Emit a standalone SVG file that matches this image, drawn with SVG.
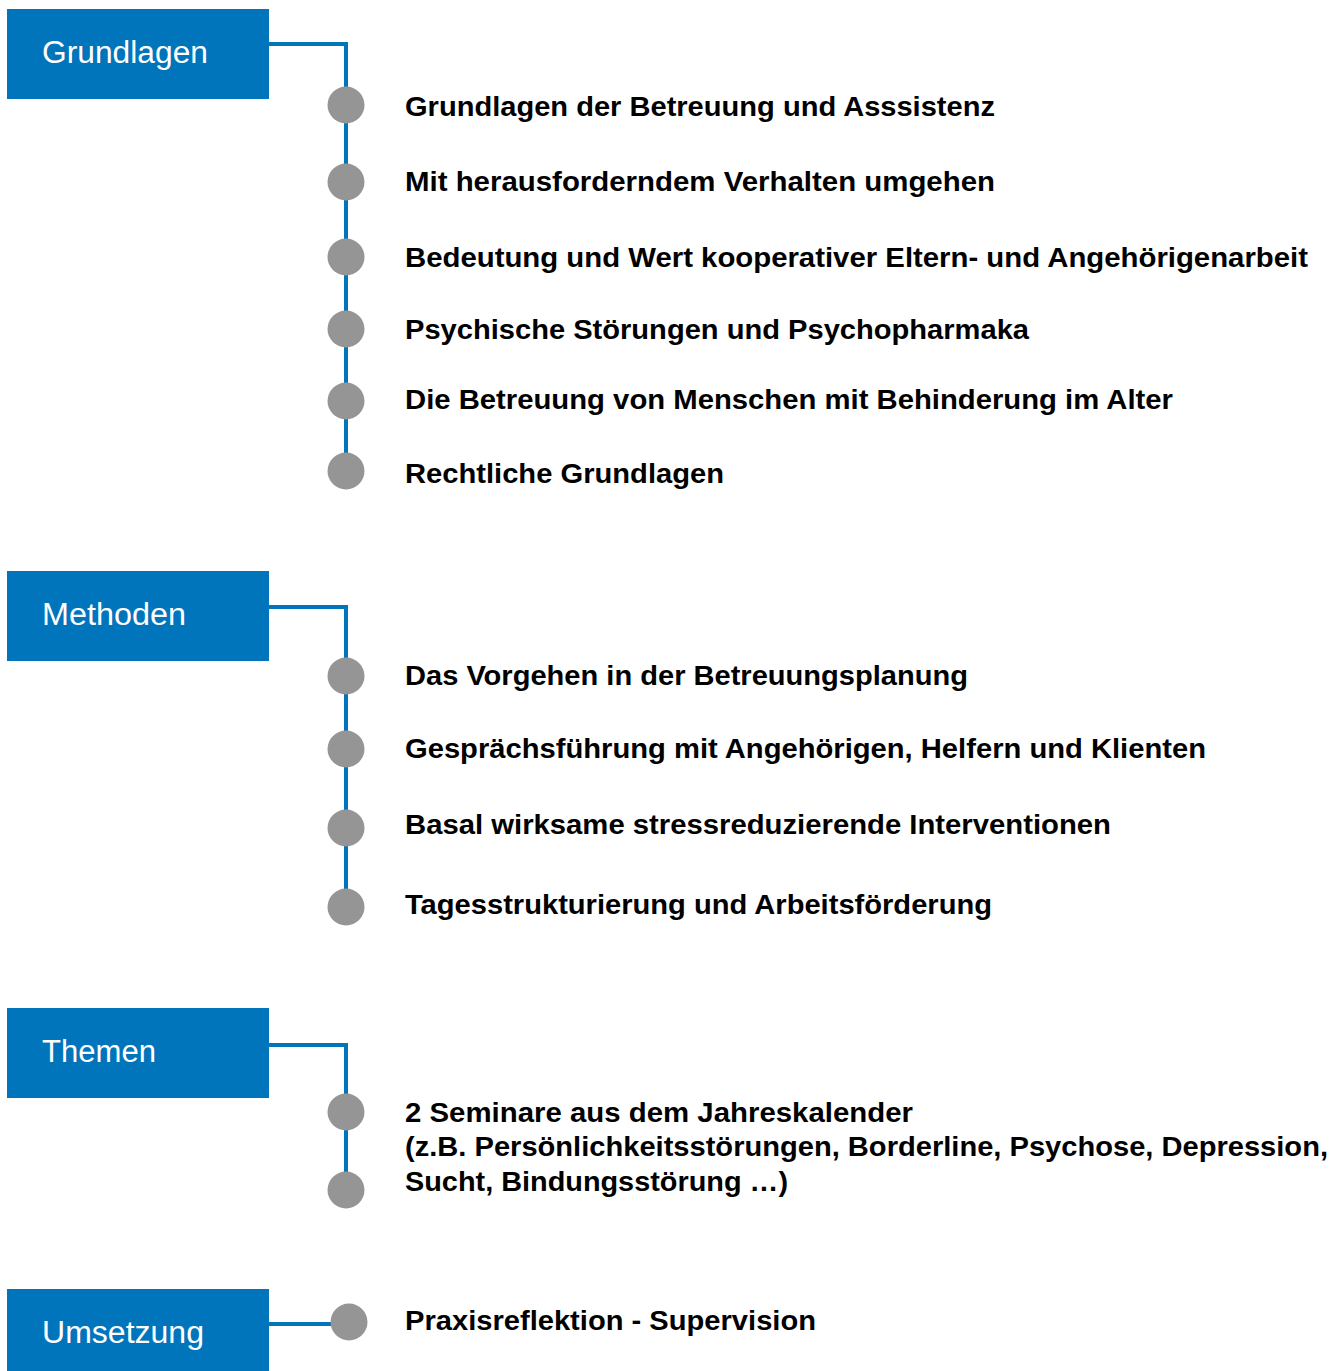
<svg xmlns="http://www.w3.org/2000/svg" width="1343" height="1371" viewBox="0 0 1343 1371">
<style>
.box{fill:#0075BB}
.lbl{font-family:"Liberation Sans",Arial,sans-serif;font-size:31px;fill:#fff}
.item{font-family:"Liberation Sans",Arial,sans-serif;font-size:27px;font-weight:bold;fill:#000}
.dot{fill:#959595}
.ln{stroke:#0075BB;stroke-width:4;fill:none}
</style>
<rect width="1343" height="1371" fill="#fff"/>
<g id="connectors">
<path class="ln" d="M269 44 H346 V471"/>
<path class="ln" d="M269 607 H346 V907"/>
<path class="ln" d="M269 1045 H346 V1190"/>
<path class="ln" d="M269 1324 H340"/>
</g>
<g id="grundlagen"><rect class="box" x="7" y="9" width="262" height="90"/><text class="lbl" x="42" y="63" textLength="166" lengthAdjust="spacingAndGlyphs">Grundlagen</text></g>
<g id="methoden"><rect class="box" x="7" y="571" width="262" height="90"/><text class="lbl" x="42" y="625" textLength="144" lengthAdjust="spacingAndGlyphs">Methoden</text></g>
<g id="themen"><rect class="box" x="7" y="1008" width="262" height="90"/><text class="lbl" x="42" y="1062" textLength="114" lengthAdjust="spacingAndGlyphs">Themen</text></g>
<g id="umsetzung"><rect class="box" x="7" y="1289" width="262" height="82"/><text class="lbl" x="42" y="1343" textLength="162" lengthAdjust="spacingAndGlyphs">Umsetzung</text></g>
<g id="g1"><circle class="dot" cx="346" cy="105" r="18.5"/><text class="item" x="405" y="116" textLength="590" lengthAdjust="spacingAndGlyphs">Grundlagen der Betreuung und Asssistenz</text></g>
<g id="g2"><circle class="dot" cx="346" cy="182" r="18.5"/><text class="item" x="405" y="191" textLength="590" lengthAdjust="spacingAndGlyphs">Mit herausforderndem Verhalten umgehen</text></g>
<g id="g3"><circle class="dot" cx="346" cy="257" r="18.5"/><text class="item" x="405" y="267" textLength="903" lengthAdjust="spacingAndGlyphs">Bedeutung und Wert kooperativer Eltern- und Angehörigenarbeit</text></g>
<g id="g4"><circle class="dot" cx="346" cy="329" r="18.5"/><text class="item" x="405" y="339" textLength="624" lengthAdjust="spacingAndGlyphs">Psychische Störungen und Psychopharmaka</text></g>
<g id="g5"><circle class="dot" cx="346" cy="401" r="18.5"/><text class="item" x="405" y="409" textLength="768" lengthAdjust="spacingAndGlyphs">Die Betreuung von Menschen mit Behinderung im Alter</text></g>
<g id="g6"><circle class="dot" cx="346" cy="471" r="18.5"/><text class="item" x="405" y="483" textLength="319" lengthAdjust="spacingAndGlyphs">Rechtliche Grundlagen</text></g>
<g id="m1"><circle class="dot" cx="346" cy="676" r="18.5"/><text class="item" x="405" y="685" textLength="563" lengthAdjust="spacingAndGlyphs">Das Vorgehen in der Betreuungsplanung</text></g>
<g id="m2"><circle class="dot" cx="346" cy="749" r="18.5"/><text class="item" x="405" y="758" textLength="801" lengthAdjust="spacingAndGlyphs">Gesprächsführung mit Angehörigen, Helfern und Klienten</text></g>
<g id="m3"><circle class="dot" cx="346" cy="828" r="18.5"/><text class="item" x="405" y="834" textLength="706" lengthAdjust="spacingAndGlyphs">Basal wirksame stressreduzierende Interventionen</text></g>
<g id="m4"><circle class="dot" cx="346" cy="907" r="18.5"/><text class="item" x="405" y="914" textLength="587" lengthAdjust="spacingAndGlyphs">Tagesstrukturierung und Arbeitsförderung</text></g>
<g id="t1"><circle class="dot" cx="346" cy="1112" r="18.5"/><circle class="dot" cx="346" cy="1190" r="18.5"/>
<text class="item" x="405" y="1122" textLength="508" lengthAdjust="spacingAndGlyphs">2 Seminare aus dem Jahreskalender</text>
<text class="item" x="405" y="1156" textLength="923" lengthAdjust="spacingAndGlyphs">(z.B. Persönlichkeitsstörungen, Borderline, Psychose, Depression,</text>
<text class="item" x="405" y="1191" textLength="383" lengthAdjust="spacingAndGlyphs">Sucht, Bindungsstörung …)</text></g>
<g id="u1"><circle class="dot" cx="349" cy="1322" r="18.5"/><text class="item" x="405" y="1330" textLength="411" lengthAdjust="spacingAndGlyphs">Praxisreflektion - Supervision</text></g>
</svg>
